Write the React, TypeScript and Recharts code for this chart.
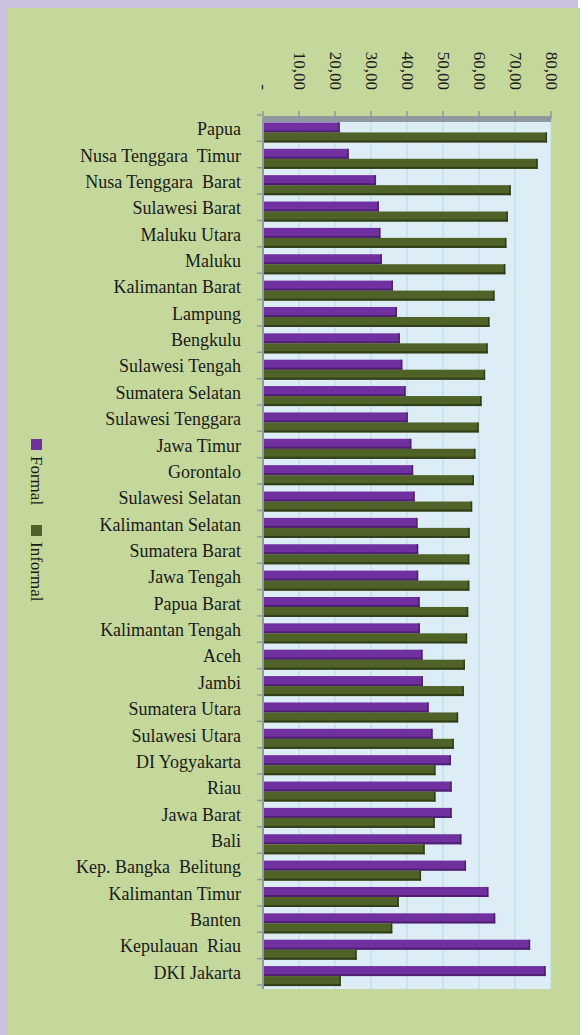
import { BarChart, Bar, XAxis, YAxis, CartesianGrid, Legend } from "recharts";

const provinces = [
  "Papua",
  "Nusa Tenggara  Timur",
  "Nusa Tenggara  Barat",
  "Sulawesi Barat",
  "Maluku Utara",
  "Maluku",
  "Kalimantan Barat",
  "Lampung",
  "Bengkulu",
  "Sulawesi Tengah",
  "Sumatera Selatan",
  "Sulawesi Tenggara",
  "Jawa Timur",
  "Gorontalo",
  "Sulawesi Selatan",
  "Kalimantan Selatan",
  "Sumatera Barat",
  "Jawa Tengah",
  "Papua Barat",
  "Kalimantan Tengah",
  "Aceh",
  "Jambi",
  "Sumatera Utara",
  "Sulawesi Utara",
  "DI Yogyakarta",
  "Riau",
  "Jawa Barat",
  "Bali",
  "Kep. Bangka  Belitung",
  "Kalimantan Timur",
  "Banten",
  "Kepulauan  Riau",
  "DKI Jakarta",
];

const formal = [
  21.3, 23.8, 31.4, 32.2, 32.6, 33.0, 36.1, 37.2, 38.0, 38.7, 39.6, 40.2, 41.2,
  41.7, 42.1, 42.9, 43.1, 43.1, 43.5, 43.6, 44.3, 44.4, 46.0, 47.1, 52.2, 52.4,
  52.4, 55.1, 56.4, 62.6, 64.5, 74.2, 78.5,
];

const informal = [
  78.9, 76.3, 68.8, 68.0, 67.6, 67.3, 64.3, 62.9, 62.4, 61.7, 60.7, 59.9, 59.0,
  58.6, 58.1, 57.4, 57.3, 57.3, 57.0, 56.7, 56.1, 55.8, 54.2, 53.0, 47.9, 47.9,
  47.7, 44.9, 43.9, 37.7, 35.9, 26.0, 21.6,
];

const valueTicks = [0, 10, 20, 30, 40, 50, 60, 70, 80];

const data = provinces.map((name, i) => ({
  name,
  Formal: formal[i],
  Informal: informal[i],
}));

const FONT = '"Liberation Serif", "Times New Roman", serif';
const INK = "#1a1a1a";
const AXIS_GRAY = "#8e999f";
const PLOT_LEFT = 256;
const BAND = 870 / provinces.length;

function shaded(fill: string, edge: string) {
  return (props: any) => {
    const { x, y, width, height } = props;
    if (!width || width <= 0) return <g />;
    return (
      <g>
        <rect x={x} y={y} width={width} height={height} fill={fill} />
        <rect x={x} y={y + height - 2} width={width} height={2} fill={edge} />
        <rect x={x + width - 1.5} y={y} width={1.5} height={height} fill={edge} />
      </g>
    );
  };
}

function ValueTick(props: any) {
  const { x, payload } = props;
  const label =
    payload.value === 0 ? "-" : Number(payload.value).toFixed(2).replace(".", ",");
  const y = 82;
  return (
    <text
      x={x}
      y={y}
      transform={`rotate(90, ${x}, ${y})`}
      textAnchor="end"
      dominantBaseline="central"
      fontSize={17}
      fill={INK}
      style={{ fontFamily: FONT }}
    >
      {label}
    </text>
  );
}

function ProvinceTick(props: any) {
  const { y, payload, index } = props;
  const top = y - BAND / 2 - 4;
  return (
    <g>
      <line x1={PLOT_LEFT - 6} x2={PLOT_LEFT} y1={top} y2={top} stroke={AXIS_GRAY} strokeWidth={1.5} />
      {index === provinces.length - 1 && (
        <line
          x1={PLOT_LEFT - 6}
          x2={PLOT_LEFT}
          y1={top + BAND}
          y2={top + BAND}
          stroke={AXIS_GRAY}
          strokeWidth={1.5}
        />
      )}
      <text
        x={PLOT_LEFT - 22}
        y={y - 3}
        textAnchor="end"
        dominantBaseline="central"
        fontSize={18}
        fill={INK}
        style={{ fontFamily: FONT, whiteSpace: "pre" }}
      >
        {payload.value}
      </text>
    </g>
  );
}

function LegendContent(props: any) {
  const { payload } = props;
  return (
    <div style={{ display: "flex", flexDirection: "column", alignItems: "center", gap: 20 }}>
      {(payload || []).map((item: any) => (
        <div
          key={item.value}
          style={{ display: "flex", flexDirection: "column", alignItems: "center" }}
        >
          <span style={{ width: 11, height: 11, background: item.color, marginBottom: 6 }} />
          <span
            style={{
              writingMode: "vertical-rl",
              fontFamily: FONT,
              fontSize: 17,
              color: INK,
              lineHeight: 1,
            }}
          >
            {item.value}
          </span>
        </div>
      ))}
    </div>
  );
}

export default function App() {
  return (
    <div style={{ position: "absolute", left: 0, top: 0, width: 588, height: 1035, background: "#ffffff" }}>
      <div style={{ position: "absolute", left: 0, top: 0, width: 578, height: 1035, background: "#ccc1dc" }} />
      <div style={{ position: "absolute", left: 7, top: 8, width: 573, height: 1027, background: "#c4d89c" }}>
        <BarChart
          width={573}
          height={1027}
          data={data}
          layout="vertical"
          margin={{ top: 81, right: 29, bottom: 46, left: 0 }}
          barCategoryGap="13%"
          barGap={0}
        >
          <CartesianGrid horizontal={false} stroke="#b3dbe6" fill="#dcedf5" />
          <XAxis
            type="number"
            orientation="top"
            domain={[0, 80]}
            ticks={valueTicks}
            height={30}
            axisLine={{ stroke: AXIS_GRAY, strokeWidth: 6 }}
            tickLine={{ stroke: AXIS_GRAY, strokeWidth: 1.5 }}
            tickSize={8}
            tick={<ValueTick />}
          />
          <YAxis
            type="category"
            dataKey="name"
            width={256}
            interval={0}
            axisLine={{ stroke: AXIS_GRAY, strokeWidth: 2 }}
            tickLine={false}
            tick={<ProvinceTick />}
          />
          <Legend
            layout="vertical"
            align="center"
            verticalAlign="middle"
            wrapperStyle={{ left: 17, top: 431, width: 24 }}
            content={<LegendContent />}
          />
          <Bar
            dataKey="Formal"
            fill="#7030a0"
            shape={shaded("#7030a0", "#4e1f73")}
            isAnimationActive={false}
          />
          <Bar
            dataKey="Informal"
            fill="#4f6228"
            shape={shaded("#4f6228", "#313e17")}
            isAnimationActive={false}
          />
        </BarChart>
      </div>
    </div>
  );
}
